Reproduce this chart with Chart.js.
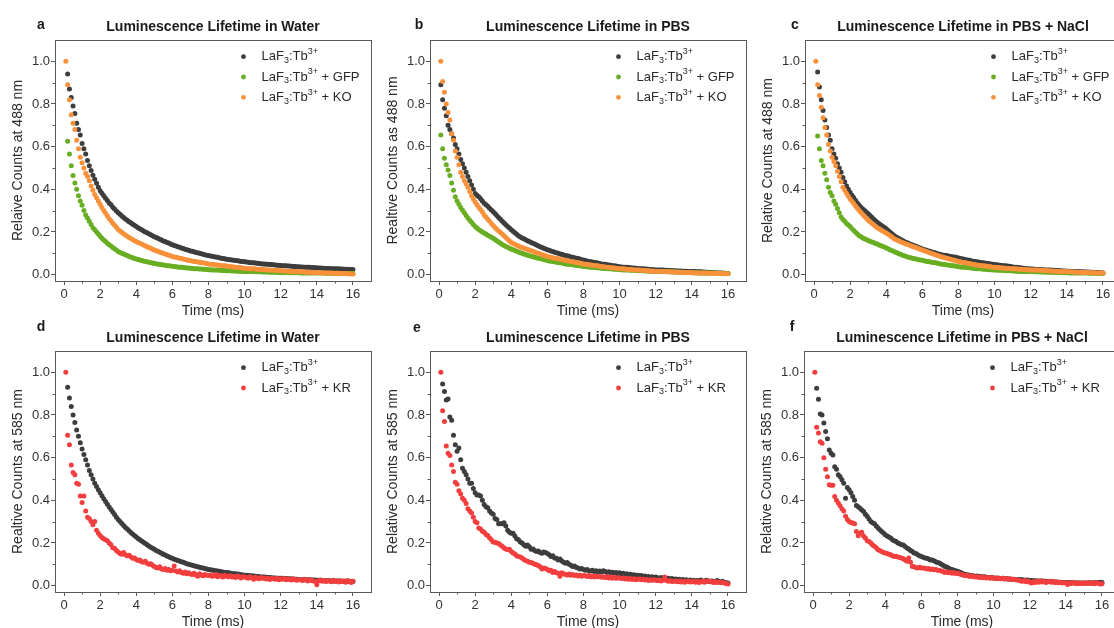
<!DOCTYPE html>
<html>
<head>
<meta charset="utf-8">
<script src="https://cdn.jsdelivr.net/npm/chart.js@4.4.1/dist/chart.umd.min.js"></script>
<style>
  html, body { margin: 0; padding: 0; background: #fff; overflow: hidden; }
  body { width: 1114px; height: 628px; position: relative; }
  canvas { position: absolute; }
</style>
</head>
<body>
<script>
// sample times (ms)
const timesMs = [
  0.1,0.2,0.3,0.4,0.5,0.6,0.7,0.8,0.9,1.0,
  1.1,1.2,1.3,1.4,1.5,1.6,1.7,1.8,1.9,2.0,
  2.1,2.2,2.3,2.4,2.5,2.6,2.7,2.8,2.9,3.0,
  3.1,3.2,3.3,3.4,3.5,3.6,3.7,3.8,3.9,4.0,
  4.1,4.2,4.3,4.4,4.5,4.6,4.7,4.8,4.9,5.0,
  5.1,5.2,5.3,5.4,5.5,5.6,5.7,5.8,5.9,6.0,
  6.1,6.2,6.3,6.4,6.5,6.6,6.7,6.8,6.9,7.0,
  7.1,7.2,7.3,7.4,7.5,7.6,7.7,7.8,7.9,8.0,
  8.1,8.2,8.3,8.4,8.5,8.6,8.7,8.8,8.9,9.0,
  9.1,9.2,9.3,9.4,9.5,9.6,9.7,9.8,9.9,10.0,
  10.1,10.2,10.3,10.4,10.5,10.6,10.7,10.8,10.9,11.0,
  11.1,11.2,11.3,11.4,11.5,11.6,11.7,11.8,11.9,12.0,
  12.1,12.2,12.3,12.4,12.5,12.6,12.7,12.8,12.9,13.0,
  13.1,13.2,13.3,13.4,13.5,13.6,13.7,13.8,13.9,14.0,
  14.1,14.2,14.3,14.4,14.5,14.6,14.7,14.8,14.9,15.0,
  15.1,15.2,15.3,15.4,15.5,15.6,15.7,15.8,15.9,16.0
];

const xTicks = [0, 2, 4, 6, 8, 10, 12, 14, 16];
const xMinorTicks = [1, 3, 5, 7, 9, 11, 13, 15];
const yTicks = [0, 0.2, 0.4, 0.6, 0.8, 1.0];
const yMinorTicks = [0.1, 0.3, 0.5, 0.7, 0.9];

// a: water, 488 nm
const waterTb488 = [
  null,0.94,0.87,0.83,0.79,0.755,0.71,0.68,0.655,0.615,
  0.59,0.565,0.535,0.51,0.488,0.466,0.447,0.428,0.41,0.393,
  0.381,0.37,0.358,0.347,0.336,0.327,0.316,0.308,0.298,0.29,
  0.283,0.275,0.268,0.261,0.255,0.248,0.243,0.236,0.231,0.225,
  0.22,0.215,0.21,0.205,0.2,0.196,0.191,0.187,0.182,0.178,
  0.174,0.17,0.166,0.162,0.158,0.155,0.151,0.148,0.144,0.14,
  0.137,0.134,0.131,0.128,0.125,0.122,0.119,0.117,0.114,0.111,
  0.109,0.107,0.104,0.102,0.1,0.098,0.095,0.093,0.091,0.089,
  0.087,0.086,0.084,0.082,0.081,0.079,0.077,0.076,0.074,0.072,
  0.071,0.07,0.069,0.067,0.066,0.065,0.064,0.062,0.061,0.06,
  0.059,0.058,0.057,0.056,0.055,0.054,0.053,0.052,0.051,0.05,
  0.05,0.049,0.048,0.047,0.047,0.046,0.045,0.044,0.044,0.043,
  0.042,0.042,0.041,0.04,0.04,0.039,0.038,0.038,0.037,0.037,
  0.036,0.036,0.035,0.035,0.034,0.034,0.033,0.033,0.032,0.032,
  0.031,0.031,0.03,0.03,0.029,0.029,0.029,0.028,0.028,0.027,
  0.027,0.027,0.026,0.026,0.025,0.025,0.025,0.024,0.024,0.024
];
const waterGfp488 = [
  null,0.625,0.565,0.51,0.465,0.43,0.40,0.37,0.345,0.325,
  0.30,0.28,0.265,0.25,0.235,0.22,0.21,0.2,0.19,0.18,
  0.17,0.162,0.155,0.147,0.14,0.134,0.127,0.121,0.115,0.108,
  0.104,0.1,0.097,0.093,0.089,0.085,0.082,0.079,0.076,0.073,
  0.071,0.068,0.066,0.064,0.062,0.06,0.058,0.056,0.054,0.052,
  0.051,0.049,0.048,0.046,0.045,0.044,0.042,0.041,0.04,0.039,
  0.038,0.037,0.036,0.035,0.034,0.033,0.032,0.031,0.031,0.03,
  0.029,0.028,0.028,0.027,0.026,0.026,0.025,0.025,0.024,0.023,
  0.023,0.022,0.022,0.021,0.021,0.02,0.02,0.019,0.019,0.018,
  0.018,0.018,0.017,0.017,0.017,0.016,0.016,0.016,0.015,0.015,
  0.015,0.014,0.014,0.014,0.014,0.013,0.013,0.013,0.013,0.012,
  0.012,0.012,0.012,0.011,0.011,0.011,0.011,0.011,0.01,0.01,
  0.01,0.01,0.01,0.01,0.009,0.009,0.009,0.009,0.009,0.009,
  0.008,0.008,0.008,0.008,0.008,0.008,0.008,0.007,0.007,0.007,
  0.007,0.007,0.007,0.007,0.006,0.006,0.006,0.006,0.006,0.006,
  0.006,0.006,0.005,0.005,0.005,0.005,0.005,0.005,0.005,0.005
];
const waterKo488 = [
  1.0,0.89,0.82,0.75,0.71,0.68,0.63,0.59,0.55,0.525,
  0.50,0.475,0.46,0.44,0.415,0.395,0.375,0.36,0.345,0.33,
  0.315,0.3,0.288,0.275,0.262,0.252,0.241,0.231,0.222,0.212,
  0.205,0.198,0.192,0.186,0.18,0.174,0.169,0.164,0.159,0.155,
  0.151,0.147,0.143,0.139,0.135,0.131,0.127,0.123,0.119,0.115,
  0.112,0.109,0.106,0.103,0.1,0.097,0.094,0.091,0.088,0.085,
  0.083,0.081,0.079,0.077,0.075,0.073,0.071,0.069,0.067,0.065,
  0.064,0.062,0.061,0.059,0.058,0.056,0.055,0.053,0.052,0.05,
  0.049,0.048,0.047,0.046,0.045,0.044,0.043,0.042,0.041,0.04,
  0.039,0.038,0.037,0.036,0.035,0.034,0.033,0.032,0.031,0.03,
  0.029,0.029,0.028,0.027,0.027,0.026,0.025,0.025,0.024,0.024,
  0.023,0.023,0.022,0.021,0.021,0.02,0.02,0.019,0.019,0.018,
  0.018,0.017,0.017,0.016,0.016,0.015,0.015,0.014,0.014,0.013,
  0.013,0.013,0.012,0.012,0.011,0.011,0.011,0.01,0.01,0.009,
  0.009,0.009,0.008,0.008,0.008,0.007,0.007,0.007,0.006,0.006,
  0.006,0.006,0.005,0.005,0.005,0.004,0.004,0.004,0.003,0.003
];

// b: PBS, 488 nm
const pbsTb488 = [
  0.89,0.82,0.78,0.745,0.70,0.68,0.66,0.64,0.61,0.59,
  0.565,0.54,0.52,0.50,0.48,0.46,0.44,0.42,0.40,0.38,
  0.372,0.365,0.356,0.345,0.335,0.328,0.32,0.311,0.303,0.295,
  0.286,0.277,0.268,0.259,0.25,0.242,0.234,0.226,0.218,0.21,
  0.203,0.196,0.189,0.182,0.176,0.172,0.168,0.163,0.159,0.155,
  0.151,0.147,0.143,0.139,0.135,0.131,0.127,0.124,0.12,0.117,
  0.114,0.111,0.108,0.105,0.102,0.1,0.097,0.095,0.092,0.09,
  0.088,0.086,0.083,0.081,0.079,0.077,0.075,0.073,0.07,0.068,
  0.066,0.064,0.062,0.06,0.059,0.057,0.055,0.054,0.052,0.05,
  0.049,0.048,0.046,0.045,0.044,0.042,0.041,0.04,0.038,0.037,
  0.036,0.035,0.035,0.034,0.033,0.032,0.031,0.031,0.03,0.029,
  0.028,0.028,0.027,0.026,0.026,0.025,0.024,0.024,0.023,0.022,
  0.022,0.021,0.021,0.021,0.02,0.02,0.019,0.019,0.018,0.018,
  0.018,0.017,0.017,0.017,0.016,0.016,0.016,0.015,0.015,0.015,
  0.014,0.014,0.013,0.013,0.013,0.012,0.012,0.011,0.011,0.01,
  0.01,0.009,0.009,0.008,0.008,0.007,0.007,0.006,0.006,0.005
];
const pbsGfp488 = [
  0.655,0.59,0.545,0.515,0.49,0.465,0.43,0.395,0.365,0.345,
  0.33,0.315,0.302,0.29,0.277,0.265,0.255,0.245,0.235,0.225,
  0.218,0.212,0.206,0.2,0.195,0.19,0.185,0.18,0.175,0.17,
  0.165,0.159,0.153,0.147,0.141,0.136,0.132,0.128,0.124,0.12,
  0.116,0.113,0.109,0.106,0.103,0.1,0.097,0.094,0.091,0.088,
  0.086,0.084,0.081,0.079,0.077,0.075,0.073,0.071,0.068,0.066,
  0.064,0.063,0.061,0.06,0.058,0.057,0.055,0.054,0.052,0.05,
  0.049,0.048,0.047,0.046,0.045,0.043,0.042,0.041,0.04,0.038,
  0.037,0.037,0.036,0.035,0.034,0.033,0.032,0.032,0.031,0.03,
  0.029,0.029,0.028,0.027,0.027,0.026,0.025,0.025,0.024,0.023,
  0.023,0.022,0.022,0.021,0.021,0.02,0.02,0.02,0.019,0.019,
  0.018,0.018,0.018,0.017,0.017,0.017,0.016,0.016,0.016,0.015,
  0.015,0.015,0.014,0.014,0.014,0.013,0.013,0.013,0.012,0.012,
  0.012,0.012,0.011,0.011,0.011,0.01,0.01,0.01,0.01,0.009,
  0.009,0.009,0.009,0.008,0.008,0.008,0.008,0.007,0.007,0.007,
  0.007,0.007,0.006,0.006,0.006,0.006,0.006,0.005,0.005,0.005
];
const pbsKo488 = [
  1.0,0.905,0.855,0.80,0.76,0.725,0.66,0.63,0.58,0.55,
  0.515,0.48,0.46,0.44,0.425,0.41,0.39,0.37,0.355,0.34,
  0.328,0.316,0.305,0.293,0.28,0.27,0.26,0.25,0.24,0.23,
  0.221,0.213,0.205,0.197,0.19,0.182,0.174,0.166,0.158,0.15,
  0.146,0.142,0.138,0.134,0.13,0.127,0.124,0.121,0.118,0.115,
  0.112,0.109,0.106,0.103,0.1,0.097,0.094,0.091,0.088,0.085,
  0.083,0.081,0.079,0.077,0.075,0.074,0.072,0.07,0.069,0.067,
  0.065,0.064,0.062,0.06,0.059,0.057,0.055,0.054,0.052,0.05,
  0.049,0.048,0.046,0.045,0.044,0.043,0.042,0.041,0.039,0.038,
  0.037,0.036,0.035,0.034,0.033,0.032,0.031,0.03,0.029,0.028,
  0.027,0.027,0.026,0.025,0.025,0.024,0.023,0.023,0.022,0.021,
  0.021,0.02,0.02,0.019,0.018,0.018,0.017,0.017,0.016,0.015,
  0.015,0.015,0.014,0.014,0.014,0.013,0.013,0.013,0.012,0.012,
  0.012,0.011,0.011,0.011,0.01,0.01,0.01,0.01,0.009,0.009,
  0.009,0.008,0.008,0.008,0.008,0.007,0.007,0.007,0.006,0.006,
  0.006,0.006,0.005,0.005,0.005,0.005,0.004,0.004,0.004,0.004
];

// c: PBS + NaCl, 488 nm
const naclTb488 = [
  null,0.95,0.88,0.82,0.77,0.725,0.69,0.655,0.63,0.59,
  0.565,0.545,0.52,0.50,0.48,0.455,0.435,0.415,0.40,0.385,
  0.372,0.36,0.348,0.336,0.325,0.316,0.308,0.3,0.292,0.285,
  0.277,0.269,0.261,0.253,0.245,0.239,0.233,0.227,0.221,0.215,
  0.207,0.2,0.193,0.186,0.179,0.174,0.169,0.165,0.16,0.155,
  0.151,0.148,0.144,0.141,0.137,0.134,0.131,0.127,0.124,0.12,
  0.117,0.115,0.112,0.11,0.107,0.104,0.102,0.099,0.097,0.094,
  0.092,0.091,0.089,0.088,0.086,0.085,0.083,0.082,0.08,0.078,
  0.076,0.074,0.072,0.07,0.068,0.067,0.065,0.063,0.062,0.06,
  0.059,0.057,0.056,0.055,0.053,0.052,0.051,0.05,0.048,0.047,
  0.046,0.045,0.044,0.043,0.042,0.041,0.04,0.039,0.038,0.036,
  0.035,0.034,0.033,0.032,0.031,0.03,0.029,0.028,0.027,0.026,
  0.026,0.025,0.025,0.024,0.024,0.023,0.023,0.022,0.022,0.021,
  0.021,0.02,0.02,0.019,0.019,0.018,0.018,0.017,0.017,0.016,
  0.016,0.016,0.015,0.015,0.014,0.014,0.013,0.013,0.013,0.012,
  0.012,0.012,0.011,0.011,0.01,0.01,0.01,0.009,0.009,0.008
];
const naclGfp488 = [
  null,0.65,0.59,0.535,0.51,0.475,0.445,0.41,0.385,0.37,
  0.345,0.33,0.31,0.29,0.27,0.258,0.25,0.24,0.232,0.225,
  0.215,0.207,0.199,0.19,0.182,0.177,0.172,0.168,0.164,0.16,
  0.156,0.153,0.15,0.146,0.143,0.139,0.136,0.132,0.129,0.125,
  0.121,0.117,0.113,0.109,0.105,0.102,0.098,0.095,0.091,0.088,
  0.085,0.083,0.08,0.078,0.076,0.074,0.072,0.07,0.069,0.067,
  0.065,0.063,0.062,0.06,0.058,0.057,0.055,0.054,0.052,0.05,
  0.049,0.048,0.046,0.045,0.044,0.043,0.041,0.04,0.039,0.037,
  0.036,0.035,0.034,0.034,0.033,0.032,0.031,0.03,0.029,0.028,
  0.027,0.027,0.026,0.025,0.025,0.024,0.023,0.023,0.022,0.021,
  0.021,0.02,0.02,0.02,0.019,0.019,0.018,0.018,0.018,0.017,
  0.017,0.016,0.016,0.016,0.015,0.015,0.015,0.015,0.014,0.014,
  0.014,0.013,0.013,0.013,0.012,0.012,0.012,0.012,0.011,0.011,
  0.011,0.011,0.01,0.01,0.01,0.01,0.01,0.009,0.009,0.009,
  0.009,0.008,0.008,0.008,0.008,0.008,0.007,0.007,0.007,0.007,
  0.007,0.006,0.006,0.006,0.006,0.006,0.005,0.005,0.005,0.005
];
const naclKo488 = [
  1.0,0.89,0.84,0.785,0.735,0.69,0.655,0.61,0.58,0.55,
  0.53,0.51,0.485,0.46,0.435,0.41,0.395,0.38,0.367,0.355,
  0.344,0.333,0.322,0.311,0.3,0.291,0.282,0.273,0.264,0.255,
  0.248,0.241,0.234,0.227,0.22,0.215,0.21,0.205,0.2,0.195,
  0.189,0.183,0.177,0.171,0.165,0.162,0.158,0.154,0.151,0.147,
  0.144,0.141,0.138,0.134,0.131,0.128,0.125,0.122,0.118,0.115,
  0.112,0.109,0.106,0.103,0.1,0.097,0.094,0.091,0.088,0.085,
  0.083,0.08,0.078,0.076,0.073,0.071,0.069,0.067,0.064,0.062,
  0.06,0.058,0.057,0.055,0.053,0.052,0.05,0.048,0.047,0.045,
  0.044,0.043,0.042,0.041,0.04,0.039,0.038,0.037,0.035,0.034,
  0.033,0.033,0.032,0.031,0.031,0.03,0.029,0.029,0.028,0.027,
  0.027,0.026,0.026,0.025,0.025,0.024,0.024,0.023,0.023,0.022,
  0.022,0.021,0.021,0.021,0.02,0.02,0.019,0.019,0.018,0.018,
  0.017,0.017,0.016,0.016,0.015,0.015,0.015,0.014,0.014,0.013,
  0.013,0.013,0.012,0.012,0.012,0.011,0.011,0.011,0.01,0.01,
  0.01,0.01,0.009,0.009,0.009,0.008,0.008,0.008,0.007,0.007
];

// d: water, 585 nm
const waterTb585 = [
  null,0.93,0.88,0.84,0.80,0.765,0.73,0.70,0.67,0.64,
  0.615,0.59,0.565,0.54,0.52,0.50,0.48,0.465,0.45,0.435,
  0.421,0.407,0.394,0.381,0.369,0.357,0.345,0.333,0.321,0.31,
  0.3,0.291,0.282,0.273,0.265,0.257,0.249,0.242,0.235,0.228,
  0.221,0.215,0.209,0.203,0.197,0.191,0.186,0.18,0.175,0.17,
  0.165,0.161,0.156,0.152,0.147,0.143,0.139,0.135,0.131,0.128,
  0.124,0.121,0.118,0.115,0.112,0.109,0.106,0.103,0.1,0.098,
  0.095,0.093,0.091,0.088,0.086,0.084,0.082,0.08,0.078,0.076,
  0.074,0.073,0.071,0.07,0.068,0.067,0.065,0.064,0.062,0.061,
  0.06,0.059,0.057,0.056,0.055,0.054,0.053,0.051,0.05,0.049,
  0.048,0.047,0.046,0.046,0.045,0.044,0.043,0.042,0.041,0.04,
  0.04,0.039,0.038,0.038,0.037,0.036,0.036,0.035,0.035,0.034,
  0.034,0.033,0.033,0.032,0.032,0.031,0.031,0.03,0.03,0.029,
  0.029,0.028,0.028,0.028,0.027,0.027,0.026,0.026,0.026,0.025,
  0.025,0.025,0.024,0.024,0.023,0.023,0.023,0.022,0.022,0.021,
  0.021,0.021,0.021,0.02,0.02,0.02,0.02,0.019,0.019,0.019
];
const waterKr585 = [
  1.0,0.705,0.66,0.565,0.53,0.52,0.48,0.475,0.42,0.39,
  0.42,0.35,0.32,0.315,0.30,0.285,0.30,0.26,0.245,0.235,
  0.225,0.22,0.215,0.21,0.20,0.192,0.178,0.175,0.165,0.158,
  0.15,0.147,0.155,0.145,0.14,0.142,0.135,0.128,0.13,0.122,
  0.118,0.12,0.112,0.11,0.114,0.105,0.1,0.103,0.095,0.09,
  0.085,0.083,0.088,0.078,0.075,0.08,0.072,0.076,0.07,0.072,
  0.092,0.068,0.064,0.07,0.062,0.058,0.064,0.056,0.06,0.054,
  0.052,0.058,0.05,0.044,0.055,0.05,0.046,0.052,0.048,0.047,
  0.05,0.044,0.046,0.052,0.042,0.047,0.045,0.04,0.048,0.044,
  0.042,0.046,0.04,0.043,0.038,0.045,0.041,0.036,0.042,0.04,
  0.038,0.034,0.041,0.037,0.03,0.039,0.035,0.032,0.038,0.034,
  0.036,0.031,0.034,0.029,0.035,0.032,0.03,0.034,0.028,0.032,
  0.03,0.033,0.027,0.031,0.029,0.026,0.032,0.028,0.025,0.029,
  0.027,0.024,0.03,0.026,0.022,0.028,0.025,0.021,0.02,0.004,
  0.022,0.026,0.02,0.024,0.019,0.023,0.021,0.018,0.025,0.02,
  0.022,0.017,0.023,0.019,0.021,0.016,0.024,0.02,0.015,0.02
];

// e: PBS, 585 nm
const pbsTb585 = [
  null,0.945,0.91,0.87,0.875,0.79,0.775,0.705,0.66,0.63,
  0.645,0.59,0.55,0.535,0.52,0.50,0.48,0.48,0.455,0.435,
  0.425,0.425,0.42,0.40,0.38,0.37,0.365,0.35,0.34,0.335,
  0.315,0.31,0.29,0.29,0.29,0.295,0.28,0.26,0.25,0.245,
  0.245,0.232,0.22,0.215,0.205,0.2,0.192,0.185,0.19,0.182,
  0.17,0.172,0.165,0.16,0.162,0.155,0.152,0.158,0.155,0.15,
  0.145,0.137,0.14,0.13,0.128,0.12,0.125,0.115,0.11,0.105,
  0.108,0.1,0.096,0.09,0.092,0.085,0.082,0.078,0.08,0.075,
  0.072,0.075,0.07,0.068,0.072,0.066,0.07,0.065,0.068,0.064,
  0.07,0.066,0.062,0.065,0.06,0.063,0.058,0.061,0.056,0.06,
  0.055,0.058,0.052,0.055,0.05,0.053,0.048,0.051,0.046,0.048,
  0.045,0.047,0.042,0.045,0.04,0.043,0.038,0.041,0.036,0.04,
  0.037,0.034,0.038,0.033,0.036,0.031,0.035,0.03,0.033,0.028,
  0.031,0.027,0.03,0.025,0.029,0.024,0.028,0.023,0.026,0.022,
  0.025,0.021,0.024,0.02,0.026,0.022,0.019,0.025,0.021,0.018,
  0.022,0.02,0.017,0.024,0.019,0.016,0.02,0.015,0.013,0.012
];
const pbsKr585 = [
  1.0,0.82,0.77,0.655,0.62,0.61,0.565,0.535,0.485,0.475,
  0.445,0.43,0.41,0.40,0.385,0.36,0.35,0.34,0.32,0.30,
  0.295,0.27,0.265,0.255,0.25,0.24,0.235,0.223,0.215,0.205,
  0.203,0.2,0.197,0.19,0.185,0.176,0.172,0.168,0.17,0.16,
  0.153,0.148,0.14,0.137,0.134,0.13,0.122,0.118,0.114,0.11,
  0.108,0.105,0.1,0.098,0.094,0.088,0.078,0.083,0.08,0.075,
  0.07,0.072,0.062,0.066,0.06,0.058,0.044,0.06,0.055,0.052,
  0.05,0.054,0.048,0.052,0.047,0.05,0.045,0.049,0.044,0.047,
  0.046,0.043,0.047,0.042,0.045,0.04,0.044,0.041,0.043,0.039,
  0.042,0.038,0.041,0.036,0.04,0.035,0.038,0.034,0.037,0.036,
  0.033,0.036,0.031,0.034,0.03,0.033,0.029,0.032,0.028,0.03,
  0.031,0.027,0.03,0.026,0.029,0.024,0.028,0.025,0.027,0.025,
  0.023,0.026,0.022,0.025,0.04,0.024,0.02,0.023,0.019,0.02,
  0.022,0.018,0.021,0.017,0.02,0.016,0.019,0.022,0.017,0.018,
  0.02,0.016,0.019,0.015,0.018,0.021,0.016,0.019,0.023,0.02,
  0.018,0.015,0.019,0.014,0.017,0.013,0.016,0.012,0.01,0.008
];

// f: PBS + NaCl, 585 nm
const naclTb585 = [
  null,0.925,0.874,0.805,0.80,0.762,0.722,0.688,0.636,0.62,
  0.612,0.557,0.546,0.52,0.51,0.496,0.48,0.41,0.46,0.45,
  0.435,0.418,0.40,0.375,0.37,0.363,0.355,0.348,0.335,0.325,
  0.312,0.30,0.295,0.29,0.28,0.27,0.262,0.254,0.247,0.239,
  0.232,0.228,0.223,0.215,0.21,0.207,0.2,0.196,0.192,0.19,
  0.183,0.176,0.172,0.165,0.16,0.153,0.15,0.145,0.14,0.137,
  0.133,0.13,0.128,0.125,0.12,0.12,0.116,0.112,0.108,0.106,
  0.1,0.095,0.09,0.087,0.082,0.078,0.075,0.072,0.07,0.067,
  0.064,0.06,0.056,0.053,0.051,0.05,0.047,0.047,0.045,0.044,
  0.045,0.042,0.043,0.04,0.041,0.039,0.038,0.037,0.038,0.036,
  0.035,0.036,0.034,0.033,0.034,0.032,0.033,0.031,0.031,0.03,
  0.03,0.029,0.028,0.029,0.027,0.027,0.026,0.025,0.026,0.024,
  0.024,0.023,0.023,0.022,0.022,0.021,0.021,0.02,0.02,0.019,
  0.019,0.018,0.018,0.017,0.017,0.016,0.016,0.015,0.015,0.014,
  0.014,0.014,0.013,0.013,0.013,0.012,0.012,0.012,0.012,0.012,
  0.012,0.012,0.012,0.013,0.012,0.013,0.014,0.015,0.016,0.014
];
const naclKr585 = [
  1.0,0.742,0.715,0.675,0.668,0.60,0.546,0.51,0.473,0.47,
  0.47,0.418,0.40,0.387,0.374,0.36,0.35,0.325,0.31,0.30,
  0.296,0.293,0.29,0.254,0.234,0.245,0.25,0.232,0.223,0.21,
  0.207,0.2,0.19,0.184,0.178,0.168,0.165,0.16,0.155,0.153,
  0.15,0.147,0.145,0.14,0.137,0.138,0.134,0.132,0.13,0.126,
  0.12,0.114,0.13,0.11,0.09,0.088,0.085,0.083,0.086,0.082,
  0.083,0.081,0.078,0.08,0.076,0.078,0.074,0.076,0.072,0.072,
  0.068,0.066,0.062,0.065,0.06,0.063,0.058,0.061,0.057,0.058,
  0.055,0.052,0.05,0.047,0.049,0.045,0.043,0.046,0.042,0.04,
  0.041,0.038,0.04,0.037,0.039,0.036,0.038,0.035,0.037,0.035,
  0.036,0.033,0.035,0.032,0.034,0.031,0.033,0.03,0.032,0.03,
  0.029,0.027,0.028,0.025,0.022,0.02,0.024,0.018,0.021,0.016,
  0.012,0.018,0.015,0.02,0.016,0.021,0.017,0.019,0.015,0.018,
  0.02,0.016,0.019,0.014,0.017,0.013,0.016,0.012,0.015,0.012,
  0.005,0.013,0.01,0.014,0.011,0.009,0.013,0.01,0.012,0.01,
  0.013,0.011,0.014,0.01,0.012,0.009,0.013,0.011,0.008,0.009
];

const GRAY = '#3d3d3d';
const GREEN = '#68ae22';
const ORANGE = '#f8913a';
const RED = '#f23e3e';
const AXIS = '#595959';
const FONT = "'Liberation Sans', Arial, sans-serif";

const PLOT_W = 316;
const PLOT_H = 241;

const panels = [
  { letter: 'a', title: 'Luminescence Lifetime in Water', yTitle: 'Relaive Counts at 488 nm',
    left: 55, top: 40, letterDx: -14, letterDy: -15,
    series: [[waterTb488, GRAY, ''], [waterGfp488, GREEN, ' + GFP'], [waterKo488, ORANGE, ' + KO']] },
  { letter: 'b', title: 'Luminescence Lifetime in PBS', yTitle: 'Realtive Counts as 488 nm',
    left: 430, top: 40, letterDx: -11, letterDy: -15,
    series: [[pbsTb488, GRAY, ''], [pbsGfp488, GREEN, ' + GFP'], [pbsKo488, ORANGE, ' + KO']] },
  { letter: 'c', title: 'Luminescence Lifetime in PBS + NaCl', yTitle: 'Relative Counts at 488 nm',
    left: 805, top: 40, letterDx: -10, letterDy: -15,
    series: [[naclTb488, GRAY, ''], [naclGfp488, GREEN, ' + GFP'], [naclKo488, ORANGE, ' + KO']] },
  { letter: 'd', title: 'Luminescence Lifetime in Water', yTitle: 'Realtive Counts at 585 nm',
    left: 55, top: 351, letterDx: -14, letterDy: -24,
    series: [[waterTb585, GRAY, ''], [waterKr585, RED, ' + KR']] },
  { letter: 'e', title: 'Luminescence Lifetime in PBS', yTitle: 'Relative Counts at 585 nm',
    left: 430, top: 351, letterDx: -13, letterDy: -23,
    series: [[pbsTb585, GRAY, ''], [pbsKr585, RED, ' + KR']] },
  { letter: 'f', title: 'Luminescence Lifetime in PBS + NaCl', yTitle: 'Relative Counts at 585 nm',
    left: 804, top: 351, letterDx: -12, letterDy: -24,
    series: [[naclTb585, GRAY, ''], [naclKr585, RED, ' + KR']] }
];

// draw "LaF3:Tb3+ ..." with real sub/superscripts
function drawSampleLabel(ctx, x, y, suffix) {
  const parts = [
    ['LaF', 13, 0], ['3', 9, 4], [':Tb', 13, 0], ['3+', 9, -5], [suffix, 13, 0]
  ];
  ctx.textAlign = 'left';
  ctx.textBaseline = 'middle';
  for (const [txt, size, dy] of parts) {
    if (!txt) continue;
    ctx.font = size + 'px ' + FONT;
    ctx.fillText(txt, x, y + dy);
    x += ctx.measureText(txt).width;
  }
}

const panelDecor = {
  id: 'panelDecor',
  afterDraw(chart, args, opts) {
    const p = opts.panel;
    const { ctx, chartArea: a, scales } = chart;
    ctx.save();
    ctx.strokeStyle = AXIS;
    ctx.lineWidth = 1;
    ctx.strokeRect(Math.round(a.left) + 0.5, Math.round(a.top) + 0.5,
                   Math.round(a.right - a.left), Math.round(a.bottom - a.top));

    // minor ticks
    ctx.beginPath();
    xMinorTicks.forEach(v => {
      const px = Math.round(scales.x.getPixelForValue(v)) + 0.5;
      ctx.moveTo(px, a.bottom); ctx.lineTo(px, a.bottom + 2.5);
    });
    yMinorTicks.forEach(v => {
      const py = Math.round(scales.y.getPixelForValue(v)) + 0.5;
      ctx.moveTo(a.left - 2.5, py); ctx.lineTo(a.left, py);
    });
    ctx.stroke();

    ctx.fillStyle = '#1a1a1a';
    const cx = (a.left + a.right) / 2;
    ctx.textAlign = 'center';
    ctx.textBaseline = 'middle';
    ctx.font = 'bold 14px ' + FONT;
    ctx.fillText(p.title, cx, a.top - 13);
    ctx.fillText(p.letter, a.left + p.letterDx, a.top + p.letterDy);

    ctx.font = '14px ' + FONT;
    ctx.fillStyle = '#2a2a2a';
    ctx.fillText('Time (ms)', cx, a.bottom + 30);
    ctx.save();
    ctx.translate(a.left - 37, (a.top + a.bottom) / 2);
    ctx.rotate(-Math.PI / 2);
    ctx.fillText(p.yTitle, 0, 0);
    ctx.restore();

    // legend
    p.series.forEach(([vals, color, suffix], i) => {
      const ly = a.top + 16.7 + 20.3 * i;
      ctx.fillStyle = color;
      ctx.beginPath();
      ctx.arc(a.left + 188.5, ly, 2.4, 0, Math.PI * 2);
      ctx.fill();
      ctx.fillStyle = '#2a2a2a';
      drawSampleLabel(ctx, a.left + 206.5, ly, suffix);
    });
    ctx.restore();
  }
};

panels.forEach(p => {
  const canvas = document.createElement('canvas');
  const w = PLOT_W + 55 + 5;
  const h = PLOT_H + 40 + 45;
  canvas.width = w;
  canvas.height = h;
  canvas.style.width = w + 'px';
  canvas.style.height = h + 'px';
  canvas.style.left = (p.left - 55) + 'px';
  canvas.style.top = (p.top - 40) + 'px';
  document.body.appendChild(canvas);

  const datasets = p.series.map(([vals, color], i) => ({
    data: timesMs.map((t, k) => ({ x: t, y: vals[k] })).filter(d => d.y !== null),
    backgroundColor: color,
    pointBackgroundColor: color,
    pointBorderWidth: 0,
    pointRadius: 2.5,
    showLine: false,
    order: p.series.length - i
  }));

  new Chart(canvas, {
    type: 'scatter',
    data: { datasets },
    options: {
      responsive: false,
      animation: false,
      events: [],
      layout: { padding: { top: 40, right: 5, left: 0, bottom: 0 } },
      plugins: {
        legend: { display: false },
        tooltip: { enabled: false },
        panelDecor: { panel: p }
      },
      scales: {
        x: {
          type: 'linear', min: -0.5, max: 17,
          afterFit(s) { s.height = 45; },
          afterBuildTicks(s) { s.ticks = xTicks.map(v => ({ value: v })); },
          grid: { drawOnChartArea: false, tickLength: 4, color: AXIS, lineWidth: 1 },
          border: { display: false },
          ticks: { padding: 2, color: '#333', font: { family: FONT, size: 13 },
                   maxRotation: 0, autoSkip: false, callback: v => String(v) }
        },
        y: {
          type: 'linear', min: -0.03, max: 1.1,
          afterFit(s) { s.width = 55; },
          afterBuildTicks(s) { s.ticks = yTicks.map(v => ({ value: v })); },
          grid: { drawOnChartArea: false, tickLength: 4, color: AXIS, lineWidth: 1 },
          border: { display: false },
          ticks: { padding: 1, color: '#333', font: { family: FONT, size: 13 },
                   autoSkip: false, callback: v => v.toFixed(1) }
        }
      }
    },
    plugins: [panelDecor]
  });
});
</script>
</body>
</html>
